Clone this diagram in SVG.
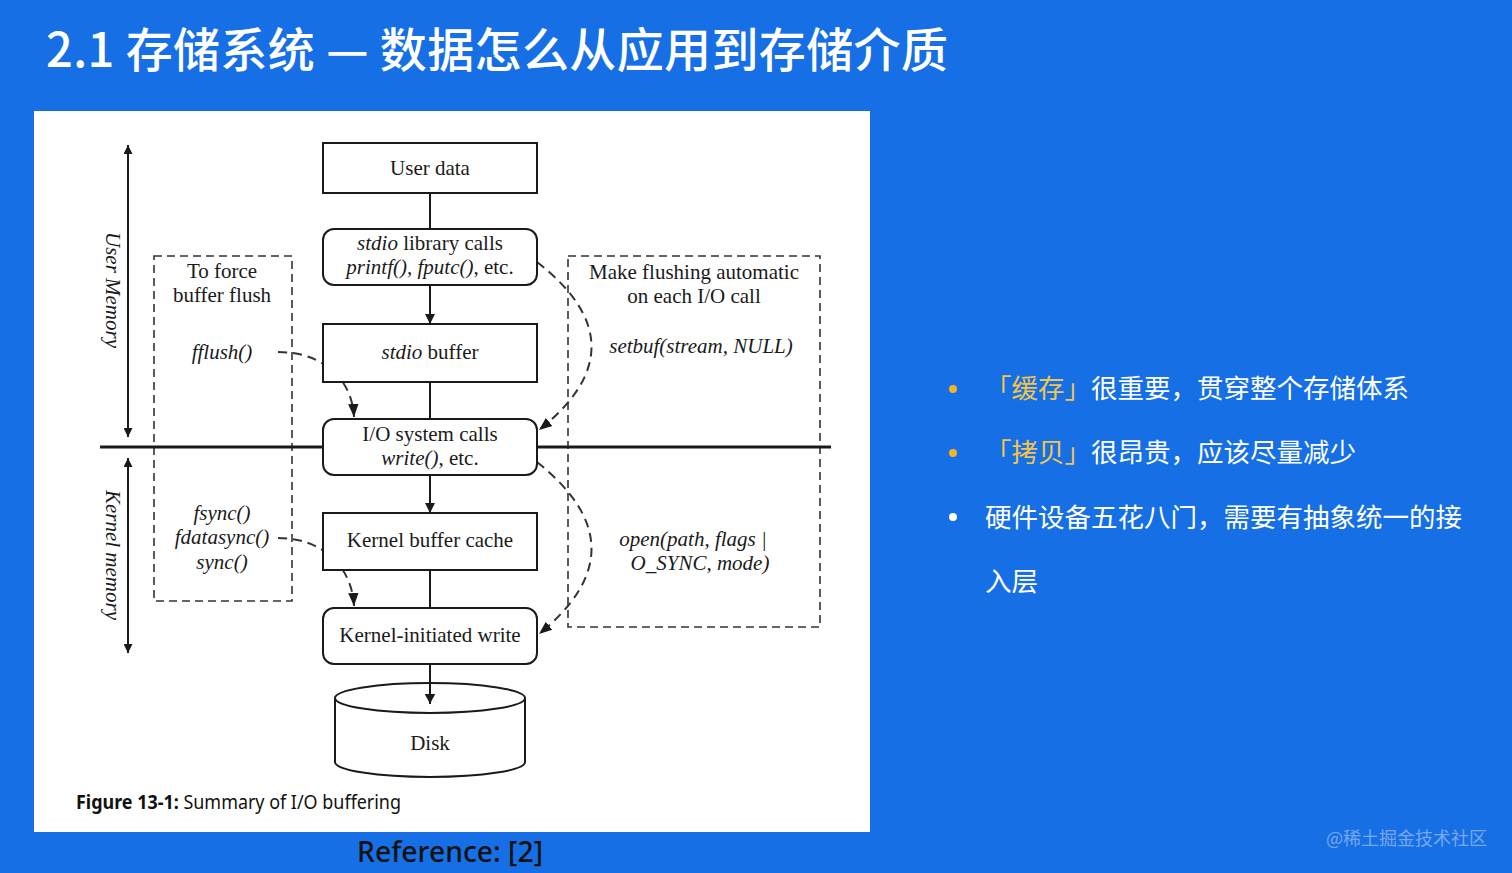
<svg xmlns="http://www.w3.org/2000/svg" width="1512" height="873" viewBox="0 0 1512 873">
<defs>
<marker id="ah" viewBox="0 0 10 10" refX="10" refY="5" markerWidth="10" markerHeight="10" markerUnits="userSpaceOnUse" orient="auto">
<path d="M0,0 L10,5 L0,10 z" fill="#1a1a1a"/>
</marker>
<marker id="ahs" viewBox="0 0 10 10" refX="10" refY="5" markerWidth="9" markerHeight="9" markerUnits="userSpaceOnUse" orient="auto-start-reverse">
<path d="M0,0 L10,5 L0,10 z" fill="#1a1a1a"/>
</marker>
<marker id="ahd" viewBox="0 0 10 10" refX="10" refY="5" markerWidth="13" markerHeight="13" markerUnits="userSpaceOnUse" orient="auto">
<path d="M0,1 L10,5 L0,9 z" fill="#1a1a1a"/>
</marker>
</defs>
<style>
.box{fill:#fff;stroke:#1a1a1a;stroke-width:2}
.t{font-family:"Liberation Serif","Times New Roman",serif;font-size:21px;fill:#1a1a1a;text-anchor:middle}
.i{font-style:italic}
.ln{stroke:#1a1a1a;stroke-width:2;fill:none}
.dash{stroke:#333;stroke-width:1.6;fill:none;stroke-dasharray:8 5}
.dl{stroke:#333;stroke-width:2;fill:none;stroke-dasharray:9 6}
.cn{font-family:"Noto Sans CJK SC","Noto Sans",sans-serif;fill:#fff}
</style>
<rect width="1512" height="873" fill="#166fe5"/>
<text x="46" y="67" class="cn" font-size="47" font-weight="500" textLength="902" lengthAdjust="spacing">2.1 存储系统 — 数据怎么从应用到存储介质</text>
<rect x="34" y="111" width="836" height="721" fill="#fff"/>

<g id="regions">
<rect x="154" y="256" width="138" height="345" class="dash"/>
<rect x="568" y="256" width="252" height="371" class="dash"/>
<line x1="128" y1="145" x2="128" y2="437" class="ln" stroke-width="1.6" marker-start="url(#ahs)" marker-end="url(#ahs)"/>
<line x1="128" y1="458" x2="128" y2="653" class="ln" stroke-width="1.6" marker-start="url(#ahs)" marker-end="url(#ahs)"/>
<text transform="translate(106,290) rotate(90)" class="t i" font-size="19">User Memory</text>
<text transform="translate(106,555) rotate(90)" class="t i" font-size="19">Kernel memory</text>
<line x1="100" y1="447" x2="831" y2="447" stroke="#1a1a1a" stroke-width="3"/>
</g>

<g id="connectors">
<line x1="430" y1="193" x2="430" y2="229" class="ln"/>
<line x1="430" y1="285" x2="430" y2="324" class="ln" marker-end="url(#ah)"/>
<line x1="430" y1="382" x2="430" y2="419" class="ln"/>
<line x1="430" y1="475" x2="430" y2="513" class="ln" marker-end="url(#ah)"/>
<line x1="430" y1="570" x2="430" y2="608" class="ln"/>
<line x1="430" y1="664" x2="430" y2="704" class="ln" marker-end="url(#ah)"/>
<path d="M278,352 C322,352 352,378 354,417" class="dl" marker-end="url(#ahd)"/>
<path d="M278,538 C322,538 352,566 354,606" class="dl" marker-end="url(#ahd)"/>
<path d="M537,262 Q645,346 539,430" class="dl" marker-end="url(#ahd)"/>
<path d="M537,462 Q645,548 539,634" class="dl" marker-end="url(#ahd)"/>
</g>

<g id="n-userdata">
<rect x="323" y="143" width="214" height="50" class="box"/>
<text x="430" y="175" class="t">User data</text>
</g>
<g id="n-stdiolib">
<rect x="323" y="229" width="214" height="56" rx="11" class="box"/>
<text x="430" y="250" class="t"><tspan class="i">stdio</tspan> library calls</text>
<text x="430" y="274" class="t"><tspan class="i">printf(), fputc()</tspan>, etc.</text>
</g>
<g id="n-stdiobuf">
<rect x="323" y="324" width="214" height="58" class="box"/>
<text x="430" y="359" class="t"><tspan class="i">stdio</tspan> buffer</text>
</g>
<g id="n-syscalls">
<rect x="323" y="419" width="214" height="56" rx="11" class="box"/>
<text x="430" y="441" class="t">I/O system calls</text>
<text x="430" y="465" class="t"><tspan class="i">write()</tspan>, etc.</text>
</g>
<g id="n-kcache">
<rect x="323" y="513" width="214" height="57" class="box"/>
<text x="430" y="547" class="t">Kernel buffer cache</text>
</g>
<g id="n-kwrite">
<rect x="323" y="608" width="214" height="56" rx="11" class="box"/>
<text x="430" y="642" class="t">Kernel-initiated write</text>
</g>
<g id="n-disk">
<path d="M335,698 L335,762 A95,15 0 0 0 525,762 L525,698" class="box"/>
<ellipse cx="430" cy="698" rx="95" ry="15" fill="none" stroke="#1a1a1a" stroke-width="2"/>
<line x1="430" y1="690" x2="430" y2="704" class="ln" marker-end="url(#ah)"/>
<text x="430" y="750" class="t" font-size="20">Disk</text>
</g>
<g id="n-force">
<text x="222" y="278" class="t">To force</text>
<text x="222" y="302" class="t">buffer flush</text>
<text x="222" y="359" class="t i" font-size="20">fflush()</text>
<text x="222" y="520" class="t i" font-size="20">fsync()</text>
<text x="222" y="544" class="t i" font-size="20">fdatasync()</text>
<text x="222" y="569" class="t i" font-size="20">sync()</text>
</g>
<g id="n-auto">
<text x="694" y="279" class="t">Make flushing automatic</text>
<text x="694" y="303" class="t">on each I/O call</text>
<text x="701" y="353" class="t i" font-size="20">setbuf(stream, NULL)</text>
<text x="693" y="546" class="t i" font-size="20">open(path, flags |</text>
<text x="700" y="570" class="t i" font-size="20">O_SYNC, mode)</text>
</g>

<text x="76" y="809" font-family="'Noto Sans','Liberation Sans',sans-serif" font-size="19" fill="#111" textLength="325" lengthAdjust="spacingAndGlyphs"><tspan font-weight="bold">Figure 13-1:</tspan> Summary of I/O buffering</text>
<text x="357" y="862" font-family="'Noto Sans','Liberation Sans',sans-serif" font-size="28" font-weight="500" fill="#111" textLength="186" lengthAdjust="spacingAndGlyphs">Reference: [2]</text>

<g id="bullets" font-size="26.5">
<circle cx="953" cy="389" r="4" fill="#f5b324"/>
<text x="985" y="398" class="cn"><tspan fill="#f2c54c">「缓存」</tspan>很重要，贯穿整个存储体系</text>
<circle cx="953" cy="453" r="4" fill="#f5b324"/>
<text x="985" y="462" class="cn"><tspan fill="#f2c54c">「拷贝」</tspan>很昂贵，应该尽量减少</text>
<circle cx="953" cy="517" r="4" fill="#fff"/>
<text x="985" y="527" class="cn">硬件设备五花八门，需要有抽象统一的接</text>
<text x="985" y="591" class="cn">入层</text>
</g>
<text x="1326" y="845" font-family="'Noto Sans CJK SC',sans-serif" font-size="18" fill="#7aa7ee">@稀土掘金技术社区</text>
</svg>
